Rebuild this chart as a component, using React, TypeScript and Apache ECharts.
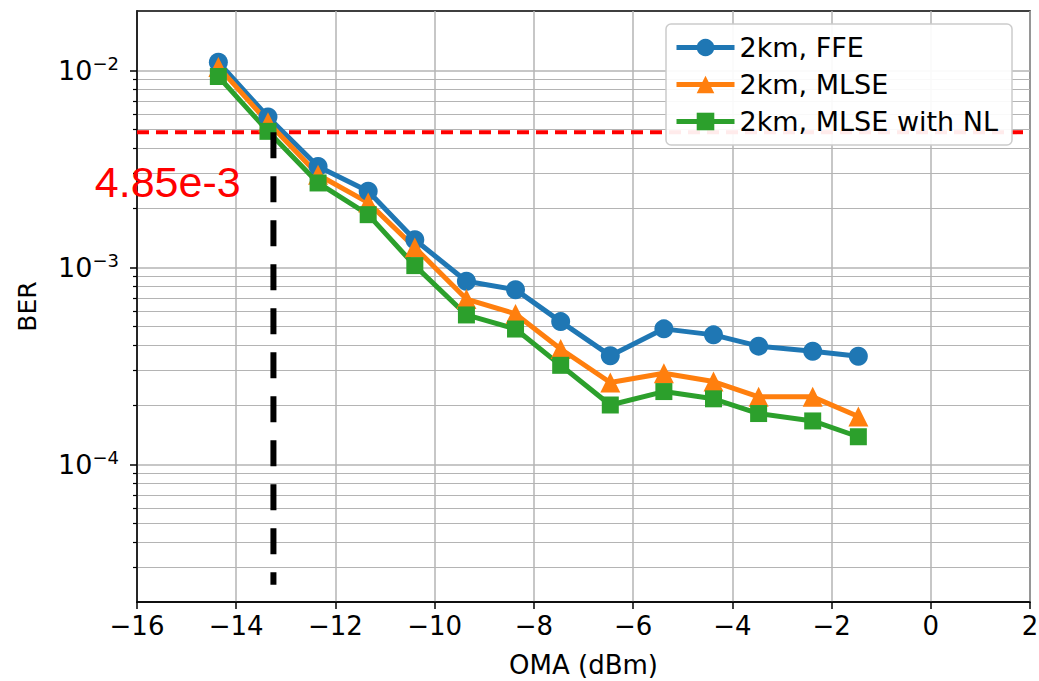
import React, { useEffect, useRef } from "react";
import * as echarts from "echarts";

const oma = [-14.36, -13.36, -12.35, -11.34, -10.4, -9.36, -8.37, -7.46, -6.46, -5.38, -4.38, -3.47, -2.38, -1.46];
const berFFE = [1.1e-2, 5.8e-3, 3.25e-3, 2.43e-3, 1.38e-3, 8.5e-4, 7.7e-4, 5.3e-4, 3.56e-4, 4.87e-4, 4.54e-4, 3.98e-4, 3.75e-4, 3.54e-4];
const berMLSE = [1.04e-2, 5.45e-3, 2.95e-3, 2.13e-3, 1.26e-3, 6.9e-4, 5.8e-4, 3.85e-4, 2.6e-4, 2.9e-4, 2.63e-4, 2.2e-4, 2.2e-4, 1.75e-4];
const berMLSENL = [9.3e-3, 4.9e-3, 2.68e-3, 1.85e-3, 1.02e-3, 5.73e-4, 4.86e-4, 3.18e-4, 2.0e-4, 2.34e-4, 2.15e-4, 1.81e-4, 1.66e-4, 1.38e-4];
const seriesNames = ["2km, FFE", "2km, MLSE", "2km, MLSE with NL"];
const threshold = 4.85e-3;
const thresholdLabel = "4.85e-3";
const crossOMA = -13.25;
const crossBottom = 2.45e-5;
const labelAnchor = [-15.38, 2.7e-3];
const xTicks = { min: -16, max: 2, interval: 2 };
const yRange = { min: 2e-5, max: 2e-2 };
const yMajor = [1e-4, 1e-3, 1e-2];
const yMinor = [
  3e-5, 4e-5, 5e-5, 6e-5, 7e-5, 8e-5, 9e-5,
  2e-4, 3e-4, 4e-4, 5e-4, 6e-4, 7e-4, 8e-4, 9e-4,
  2e-3, 3e-3, 4e-3, 5e-3, 6e-3, 7e-3, 8e-3, 9e-3,
];

const FONT = "DejaVu Sans";

export default function App() {
  const ref = useRef<HTMLDivElement>(null);
  useEffect(() => {
    document.body.style.margin = "0";
    const chart = echarts.init(ref.current!, null, { renderer: "svg" });
    const pair = (ys: number[]) => oma.map((x, i) => [x, ys[i]]);
    const gridColor = "#b4b4b4";
    chart.setOption({
      animation: false,
      backgroundColor: "#fff",
      grid: {
        left: 137, right: 9, top: 11, bottom: 79,
        outerBoundsMode: "none", containLabel: false,
        show: true, borderColor: "#000", borderWidth: 1.5, backgroundColor: "transparent",
      },
      xAxis: {
        type: "value", min: xTicks.min, max: xTicks.max, interval: xTicks.interval,
        name: "OMA (dBm)", nameLocation: "middle", nameGap: 50,
        nameTextStyle: { fontFamily: FONT, fontSize: 26, color: "#000" },
        axisLine: { onZero: false, lineStyle: { color: "#000", width: 1.5 } },
        axisTick: { length: 7, lineStyle: { color: "#000", width: 1.5 } },
        axisLabel: {
          fontFamily: FONT, fontSize: 26, color: "#000", margin: 11,
          formatter: (v: number) => String(v).replace("-", "\u2212"),
        },
        splitLine: { show: true, lineStyle: { color: gridColor, width: 1.5 } },
      },
      yAxis: [
        {
          type: "log", logBase: 10, min: yRange.min, max: yRange.max,
          name: "BER", nameLocation: "middle", nameGap: 97,
          nameTextStyle: { fontFamily: FONT, fontSize: 25, color: "#000" },
          axisLine: { show: true, onZero: false, lineStyle: { color: "#000", width: 1.5 } },
          axisTick: { show: true, length: 7, customValues: yMajor, lineStyle: { color: "#000", width: 1.5 } },
          axisLabel: {
            customValues: yMajor, margin: 18,
            formatter: (v: number) => `{b|10}{s|\u2212${Math.round(-Math.log10(v))}}`,
            rich: {
              b: { fontFamily: FONT, fontSize: 27, color: "#000" },
              s: { fontFamily: FONT, fontSize: 18, color: "#000", padding: [0, 0, 13, 0] },
            },
          },
          splitLine: { show: true, lineStyle: { color: gridColor, width: 1.5 } },
        },
        {
          type: "log", logBase: 10, min: yRange.min, max: yRange.max, position: "left",
          axisLine: { show: false, onZero: false },
          axisTick: { show: true, length: 4, customValues: yMinor, lineStyle: { color: "#000", width: 1.2 } },
          axisLabel: { show: false },
          splitLine: { show: true, lineStyle: { color: gridColor, width: 1.2 } },
        },
      ],
      legend: {
        orient: "vertical", left: 666, top: 24,
        padding: [10, 14, 10, 8], itemWidth: 58, itemHeight: 22, itemGap: 10, itemTextGap: 22,
        backgroundColor: "rgba(255,255,255,0.92)", borderColor: "#cccccc", borderWidth: 1.5, borderRadius: 5,
        textStyle: { fontFamily: FONT, fontSize: 27, color: "#000" },
        lineStyle: { width: 5 },
        data: seriesNames,
      },
      series: [
        {
          type: "line", name: "threshold", data: [[xTicks.min, threshold], [xTicks.max, threshold]],
          showSymbol: false, silent: true, z: 1,
          lineStyle: { color: "#ff0000", width: 4, type: [12, 7] },
        },
        {
          type: "line", name: seriesNames[0], data: pair(berFFE), symbol: "circle", symbolSize: 19,
          itemStyle: { color: "#1f77b4" }, lineStyle: { color: "#1f77b4", width: 5 }, z: 2,
        },
        {
          type: "line", name: seriesNames[1], data: pair(berMLSE), symbol: "triangle", symbolSize: 20,
          itemStyle: { color: "#ff7f0e" }, lineStyle: { color: "#ff7f0e", width: 5 }, z: 2,
        },
        {
          type: "line", name: seriesNames[2], data: pair(berMLSENL), symbol: "rect", symbolSize: 17,
          itemStyle: { color: "#2ca02c" }, lineStyle: { color: "#2ca02c", width: 5 }, z: 2,
        },
        {
          type: "line", name: "cross", data: [[crossOMA, threshold], [crossOMA, crossBottom]],
          showSymbol: false, silent: true, z: 3,
          lineStyle: { color: "#000", width: 6, type: [26, 18] },
        },
        {
          type: "scatter", name: "label", data: [labelAnchor], symbolSize: 1, silent: true, z: 4,
          itemStyle: { color: "rgba(0,0,0,0)", opacity: 1 },
          label: {
            show: true, position: "inside", formatter: thresholdLabel, opacity: 1,
            fontFamily: "Liberation Sans", fontSize: 43, color: "#ff0000",
          },
        },
      ],
    });
    return () => chart.dispose();
  }, []);
  return <div ref={ref} style={{ width: 1039, height: 681 }} />;
}
